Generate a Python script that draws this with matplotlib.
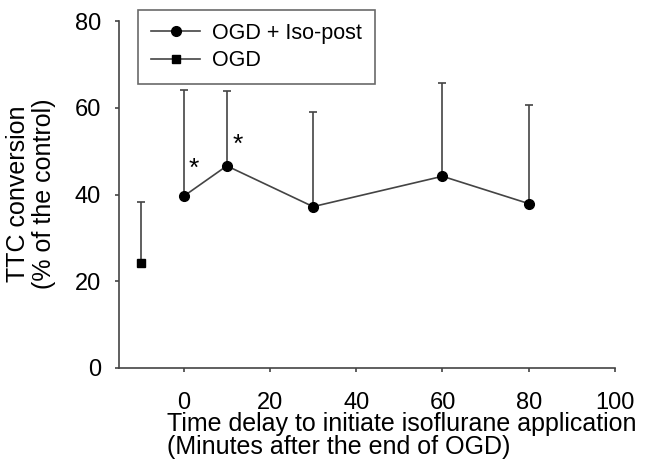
import matplotlib
matplotlib.use("Agg")
import matplotlib.pyplot as plt
from matplotlib.lines import Line2D
import numpy as np

plt.rcParams['font.family'] = ['Liberation Sans', 'DejaVu Sans']

iso_x = [0, 10, 30, 60, 80]
iso_y = [39.6, 46.6, 37.2, 44.2, 37.9]
iso_top = [64.0, 63.9, 59.1, 65.8, 60.6]
ogd_x = [-10]
ogd_y = [24.3]
ogd_top = [38.2]
star_x = [2.3, 12.5]
star_y = [46.0, 51.5]
xticks = [0, 20, 40, 60, 80, 100]
yticks = [0, 20, 40, 60, 80]

W, H = 645, 470
fig = plt.figure(figsize=(W / 100, H / 100), dpi=100)
ax = fig.add_axes([119 / W, 1 - 368 / H, (615 - 119) / W, (368 - 21) / H])

line_col = '#444444'
iso_err = [np.zeros(len(iso_y)), np.array(iso_top) - np.array(iso_y)]
ogd_err = [np.zeros(len(ogd_y)), np.array(ogd_top) - np.array(ogd_y)]

ax.errorbar(iso_x, iso_y, yerr=iso_err, fmt='-o', color=line_col, mfc='black', mec='black',
            ms=7, lw=1.2, ecolor=line_col, elinewidth=1.2, capsize=3, capthick=1.2,
            zorder=3, clip_on=False)
ax.errorbar(ogd_x, ogd_y, yerr=ogd_err, fmt='-s', color=line_col, mfc='black', mec='black',
            ms=6, lw=1.2, ecolor=line_col, elinewidth=1.2, capsize=3, capthick=1.2,
            zorder=3, clip_on=False)

for sx, sy in zip(star_x, star_y):
    ax.text(sx, sy, '*', fontsize=19, ha='center', va='center', color='black')

ax.set_xlim(-15, 100)
ax.set_ylim(0, 80)
ax.set_xticks(xticks)
ax.set_yticks(yticks)
ax.spines['top'].set_visible(False)
ax.spines['right'].set_visible(False)
for s in ['left', 'bottom']:
    ax.spines[s].set_color(line_col)
    ax.spines[s].set_linewidth(1.2)
ax.tick_params(axis='both', colors=line_col, labelcolor='black', labelsize=17, width=1.2, length=3)
ax.tick_params(axis='x', pad=14)
ax.tick_params(axis='y', pad=10)

fig.text(167 / W, 1 - 431 / H, 'Time delay to initiate isoflurane application',
         fontsize=18, ha='left', va='baseline')
fig.text(167 / W, 1 - 454 / H, '(Minutes after the end of OGD)',
         fontsize=18, ha='left', va='baseline')
fig.text(31 / W, 1 - 194 / H, 'TTC conversion\n(% of the control)', fontsize=18,
         rotation=90, ha='center', va='center', linespacing=1.08, multialignment='center')

handles = [Line2D([], [], color=line_col, lw=1.2, marker='o', mfc='black', mec='black', ms=7),
           Line2D([], [], color=line_col, lw=1.2, marker='s', mfc='black', mec='black', ms=6)]
leg = fig.legend(handles, ['OGD + Iso-post', 'OGD'], loc='upper left',
                 bbox_to_anchor=(138 / W, 1 - 10 / H), bbox_transform=fig.transFigure,
                 borderaxespad=0, fontsize=15.5, frameon=True, fancybox=False,
                 edgecolor=line_col, handlelength=2.3, handletextpad=0.55, borderpad=0.6,
                 labelspacing=0.3)
leg.get_frame().set_linewidth(1.2)

fig.savefig('out.png', dpi=100)
